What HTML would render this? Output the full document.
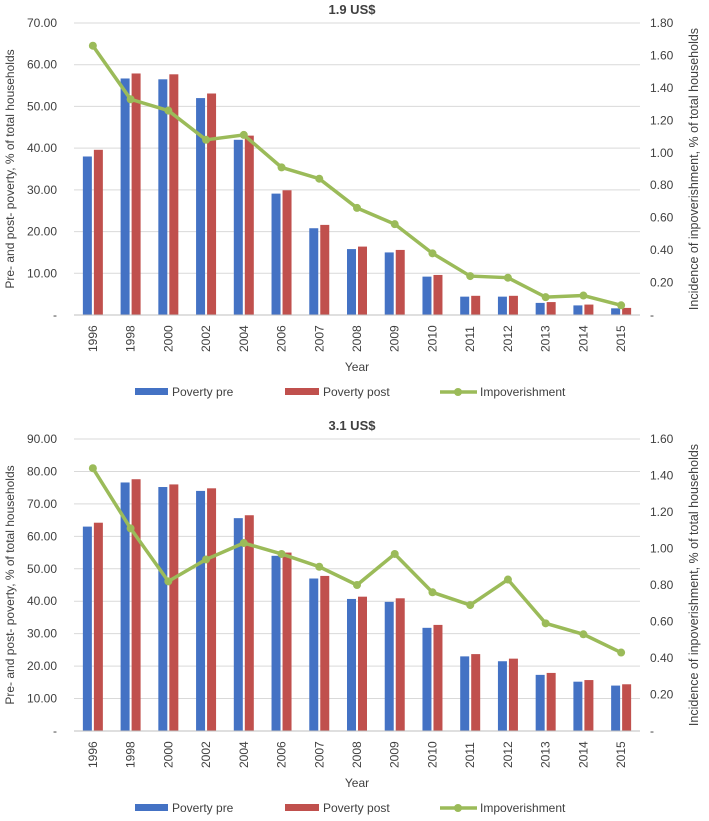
<!DOCTYPE html>
<html><head><meta charset="utf-8"><style>
body{margin:0;background:#fff;font-family:"Liberation Sans",sans-serif}
svg text{font-family:"Liberation Sans",sans-serif;fill:#404040}
</style></head><body>
<svg id="s" width="709" height="816"></svg>
<script>
const years=["1996","1998","2000","2002","2004","2006","2007","2008","2009","2010","2011","2012","2013","2014","2015"];
const prePoverty19=[38.0,56.7,56.5,52.0,42.0,29.1,20.8,15.8,15.0,9.2,4.4,4.4,2.9,2.3,1.6];
const postPoverty19=[39.6,57.9,57.7,53.1,43.0,29.9,21.6,16.4,15.6,9.6,4.6,4.6,3.1,2.5,1.7];
const impov19=[1.66,1.33,1.26,1.08,1.11,0.91,0.84,0.66,0.56,0.38,0.24,0.23,0.11,0.12,0.06];
const prePoverty31=[63.0,76.6,75.2,74.0,65.6,54.0,47.0,40.7,39.8,31.8,23.0,21.5,17.3,15.2,14.0];
const postPoverty31=[64.2,77.6,76.0,74.8,66.5,55.0,47.8,41.4,40.9,32.7,23.7,22.3,17.9,15.7,14.4];
const impov31=[1.44,1.11,0.82,0.94,1.03,0.97,0.90,0.80,0.97,0.76,0.69,0.83,0.59,0.53,0.43];
const leftTicks19=[0,10,20,30,40,50,60,70];
const rightTicks19=[0,0.2,0.4,0.6,0.8,1.0,1.2,1.4,1.6,1.8];
const leftTicks31=[0,10,20,30,40,50,60,70,80,90];
const rightTicks31=[0,0.2,0.4,0.6,0.8,1.0,1.2,1.4,1.6];
const NS="http://www.w3.org/2000/svg";
const svg=document.getElementById('s');
function el(t,a,txt){const e=document.createElementNS(NS,t);for(const k in a)e.setAttribute(k,a[k]);if(txt!==undefined)e.textContent=txt;svg.appendChild(e);return e;}
function chart(title,pre,post,imp,lt,rt,top,bottom,tag){
  const x0=74,x1=640,step=(x1-x0)/years.length;
  const lmax=lt[lt.length-1],rmax=rt[rt.length-1];
  const yL=v=>bottom-(bottom-top)*v/lmax, yR=v=>bottom-(bottom-top)*v/rmax, xC=i=>x0+step*(i+0.5);
  let t=el('text',{x:352,y:top-9,'text-anchor':'middle','font-size':13,'font-weight':'bold',fill:'#000'},title);
  
  lt.forEach(v=>{
    if(v>0){const g=el('line',{x1:x0,x2:x1,y1:yL(v),y2:yL(v),stroke:'#d9d9d9'});
      }
    const e=el('text',{x:57,y:yL(v)+4,'text-anchor':'end','font-size':12},v===0?'-':v.toFixed(2));
    });
  rt.forEach(v=>{const e=el('text',{x:650,y:yR(v)+4,'text-anchor':'start','font-size':12},v===0?'-':v.toFixed(2));
    });
  years.forEach((y,i)=>{
    const b1=el('rect',{x:xC(i)-10,y:yL(pre[i]),width:9,height:bottom-yL(pre[i]),fill:'#4472C4'});
    
    const b2=el('rect',{x:xC(i)+1,y:yL(post[i]),width:9,height:bottom-yL(post[i]),fill:'#C0504D'});
    
    const l=el('text',{transform:`translate(${xC(i)+4},${bottom+37}) rotate(-90)`,'font-size':12},y);
    
  });
  const ax=el('line',{x1:x0,x2:x1,y1:bottom,y2:bottom,stroke:'#bfbfbf'});
  
  const pl=el('polyline',{points:imp.map((v,i)=>xC(i)+','+yR(v)).join(' '),fill:'none',stroke:'#9BBB59','stroke-width':3.5});
  
  imp.forEach((v,i)=>{const c=el('circle',{cx:xC(i),cy:yR(v),r:4,fill:'#9BBB59'});
    });
  const yt=el('text',{x:357,y:bottom+56,'text-anchor':'middle','font-size':12},'Year');
  
  const mid=(top+bottom)/2;
  const lt1=el('text',{transform:`translate(14,${mid}) rotate(-90)`,'text-anchor':'middle','font-size':12},'Pre- and post- poverty, % of total households');
  
  const rt1=el('text',{transform:`translate(698,${mid}) rotate(-90)`,'text-anchor':'middle','font-size':12.5},'Incidence of inpoverishment, % of total households');
  
  const ly=bottom+77;
  const r1=el('rect',{x:135,y:ly-4,width:33,height:7,fill:'#4472C4'});
  el('text',{x:172,y:ly+4,'font-size':12},'Poverty pre');
  const r2=el('rect',{x:285,y:ly-4,width:34,height:7,fill:'#C0504D'});
  el('text',{x:323,y:ly+4,'font-size':12},'Poverty post');
  const l3=el('line',{x1:440,x2:477,y1:ly,y2:ly,stroke:'#9BBB59','stroke-width':3.5});
  el('circle',{cx:458,cy:ly,r:4,fill:'#9BBB59'});
  el('text',{x:480,y:ly+4,'font-size':12},'Impoverishment');
}
chart('1.9 US$',prePoverty19,postPoverty19,impov19,leftTicks19,rightTicks19,23,315,'chart19');
chart('3.1 US$',prePoverty31,postPoverty31,impov31,leftTicks31,rightTicks31,439,731,'chart31');
</script>
</body></html>
